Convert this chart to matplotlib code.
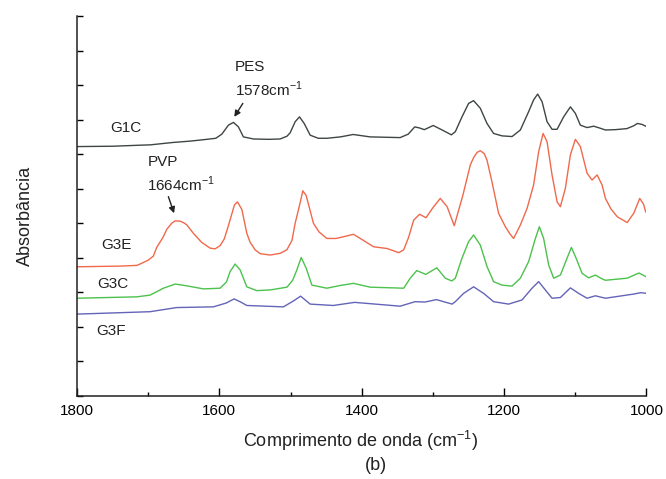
import matplotlib
matplotlib.use("Agg")
import matplotlib.pyplot as plt

plt.rcParams['font.family'] = ['Liberation Sans', 'DejaVu Sans']

# ---- data (wavenumber cm-1, absorbance arbitrary units) ----
g1c_w = [1800, 1750, 1711.4, 1697, 1664.6, 1640, 1617.6, 1605, 1596.5, 1587.3, 1580.2, 1573.2,
         1566.2, 1552.1, 1530, 1514.6, 1505, 1500.5, 1493.5, 1487.4, 1480.8, 1472.4, 1461, 1449,
         1430, 1412, 1388, 1346, 1334.6, 1325.5, 1319, 1312, 1299.5, 1287, 1274, 1268.5, 1259.1,
         1249.8, 1242.8, 1233.4, 1224, 1214.7, 1202.9, 1188.8, 1177.1, 1165.5, 1158.5, 1152.8,
         1146.6, 1139.6, 1132.6, 1125.5, 1116.3, 1106.8, 1099.8, 1092.8, 1083.4, 1074.1, 1064.7,
         1057.6, 1043.6, 1027.5, 1018, 1012.6, 1006, 1001]
g1c_a = [7.22, 7.23, 7.26, 7.27, 7.34, 7.38, 7.43, 7.46, 7.58, 7.84, 7.92, 7.79,
         7.50, 7.44, 7.43, 7.44, 7.52, 7.62, 7.94, 8.08, 7.89, 7.55, 7.46, 7.46,
         7.50, 7.57, 7.50, 7.48, 7.58, 7.79, 7.76, 7.71, 7.83, 7.70, 7.56, 7.65, 8.08,
         8.47, 8.55, 8.33, 7.89, 7.60, 7.53, 7.51, 7.70, 8.23, 8.57, 8.74,
         8.52, 7.94, 7.72, 7.72, 8.08, 8.37, 8.18, 7.84, 7.77, 7.81, 7.75,
         7.70, 7.71, 7.74, 7.82, 7.89, 7.86, 7.81]

g3e_w = [1800, 1740, 1716, 1711.4, 1700, 1692.7, 1688, 1678.7, 1674, 1667, 1662, 1655, 1650.5,
         1646, 1636.5, 1625, 1613, 1606, 1599, 1593, 1587.3, 1578.8, 1574.6, 1568.4, 1561.4,
         1556.8, 1549.7, 1542.7, 1528.6, 1514.6, 1505.2, 1498, 1493.5, 1487, 1482.7, 1478,
         1474.8, 1467.8, 1460, 1449, 1436, 1425.6, 1411.5, 1402, 1383.4, 1364.6, 1348, 1341,
         1334, 1327, 1318.7, 1309.7, 1300, 1289.6, 1280, 1270, 1258, 1247.4, 1242.8, 1238,
         1233.4, 1228, 1224, 1217, 1207.7, 1198.2, 1192, 1186.6, 1177.1, 1167.7, 1158.5, 1151.4,
         1145.2, 1139.6, 1132.6, 1125.5, 1120.9, 1113.9, 1106.8, 1099.8, 1092.8, 1083.4, 1076.4,
         1069.3, 1062.3, 1057.6, 1050, 1041, 1027, 1017.8, 1009.4, 1004, 1001]
g3e_a = [3.74, 3.76, 3.78, 3.82, 3.93, 4.05, 4.30, 4.61, 4.82, 5.00, 5.07, 5.06, 5.02,
         4.96, 4.71, 4.45, 4.28, 4.26, 4.35, 4.55, 4.93, 5.53, 5.62, 5.40, 4.71,
         4.45, 4.23, 4.12, 4.08, 4.13, 4.23, 4.50, 5.00, 5.55, 5.94, 5.80,
         5.55, 5.00, 4.75, 4.56, 4.56, 4.61, 4.68, 4.56, 4.32, 4.27, 4.15, 4.23,
         4.60, 5.09, 5.26, 5.16, 5.45, 5.72, 5.48, 4.93, 5.80, 6.69, 6.90, 7.05,
         7.10, 7.02, 6.83, 6.20, 5.29, 4.90, 4.70, 4.56, 4.95, 5.43, 6.11, 7.07,
         7.60, 7.36, 6.40, 5.62, 5.48, 6.01, 6.98, 7.43, 7.22, 6.45, 6.25,
         6.40, 6.11, 5.72, 5.42, 5.19, 5.02, 5.29, 5.72, 5.55, 5.33]

g3c_w = [1800, 1716, 1697.4, 1685, 1678.7, 1662, 1646, 1622.4, 1599, 1590, 1584.9, 1577.9,
         1570.8, 1561.4, 1547.3, 1528.6, 1505, 1497, 1491.1, 1485, 1478, 1470, 1449, 1430,
         1411.5, 1388, 1341, 1331.8, 1322.7, 1310, 1294.5, 1282.6, 1273.4, 1268.5, 1259.1,
         1249.8, 1242.8, 1233.4, 1224, 1214.7, 1202.9, 1188.8, 1177.1, 1165.5, 1156, 1150.4,
         1144.4, 1137.3, 1130.3, 1120.9, 1111.5, 1105.4, 1098.8, 1090.4, 1081.1, 1071.7, 1062.3,
         1057.6, 1027, 1010.5, 999.3]
g3c_a = [2.83, 2.87, 2.92, 3.05, 3.12, 3.24, 3.19, 3.10, 3.12, 3.30, 3.60, 3.82,
         3.65, 3.16, 3.05, 3.07, 3.15, 3.35, 3.65, 4.01, 3.70, 3.21, 3.12, 3.20,
         3.26, 3.15, 3.12, 3.41, 3.63, 3.52, 3.71, 3.41, 3.33, 3.41, 3.99,
         4.47, 4.66, 4.37, 3.75, 3.31, 3.21, 3.18, 3.41, 3.89, 4.56, 4.90,
         4.56, 3.79, 3.41, 3.50, 3.99, 4.30, 3.99, 3.55, 3.42, 3.50, 3.39,
         3.35, 3.41, 3.56, 3.44]

g3f_w = [1800, 1697.4, 1660, 1608.4, 1590.5, 1579.3, 1570, 1561.4, 1510, 1496, 1485.8, 1472.4,
         1440, 1410, 1346, 1325, 1311, 1295, 1273, 1268.5, 1256.9, 1242.8, 1228.7, 1214.7,
         1193.6, 1174.8, 1160.7, 1151.4, 1142, 1132.6, 1120.9, 1106.8, 1095.2, 1083.4, 1071.7,
         1057.6, 1018, 1008, 999]
g3f_a = [2.37, 2.44, 2.56, 2.58, 2.69, 2.81, 2.72, 2.62, 2.58, 2.75, 2.89, 2.66,
         2.62, 2.71, 2.60, 2.73, 2.72, 2.79, 2.66, 2.73, 2.97, 3.16, 2.97, 2.73,
         2.66, 2.78, 3.12, 3.31, 3.07, 2.83, 2.85, 3.13, 2.97, 2.83, 2.90,
         2.83, 2.95, 2.99, 2.97]

series_names = ['G1C', 'G3E', 'G3C', 'G3F']
series_colors = ['#3e4644', '#f0694c', '#4cc24c', '#6464b8']

x_ticks = [1800, 1600, 1400, 1200, 1000]
x_minor = [1700, 1500, 1300, 1100]
y_ticks = list(range(0, 12))

# ---- figure ----
fig = plt.figure(figsize=(6.66, 4.79), dpi=100)
ax = fig.add_axes([0.1156, 0.1733, 0.855, 0.7933])

for w, a, c in zip([g1c_w, g3e_w, g3c_w, g3f_w], [g1c_a, g3e_a, g3c_a, g3f_a], series_colors):
    ax.plot(w, a, color=c, lw=1.0, solid_joinstyle='round')

ax.set_xlim(1800, 1000)
ax.set_ylim(0, 11)
ax.set_xticks(x_ticks)
ax.set_xticks(x_minor, minor=True)
ax.set_yticks(y_ticks)
ax.set_yticklabels([])
ax.tick_params(axis='x', which='major', direction='in', length=6, width=1.0, labelsize=11, pad=6)
ax.tick_params(axis='x', which='minor', direction='in', length=3, width=1.0)
ax.tick_params(axis='y', which='major', direction='in', length=4, width=1.0)
for s in ['top', 'right']:
    ax.spines[s].set_visible(False)
for s in ['left', 'bottom']:
    ax.spines[s].set_linewidth(1.1)
    ax.spines[s].set_color('#222222')

# labels for curves
ax.text(1732, 7.76, 'G1C', fontsize=11, ha='center', va='center', color='#222222')
ax.text(1744, 4.38, 'G3E', fontsize=11, ha='center', va='center', color='#222222')
ax.text(1749, 3.24, 'G3C', fontsize=11, ha='center', va='center', color='#222222')
ax.text(1752, 1.88, 'G3F', fontsize=11, ha='center', va='center', color='#222222')

# annotations
ax.text(1578, 9.52, 'PES', fontsize=11, ha='left', va='center', color='#222222')
ax.text(1578, 8.89, r'1578cm$^{\mathregular{-1}}$', fontsize=11, ha='left', va='center', color='#222222')
ax.annotate('', xy=(1579, 8.08), xytext=(1567, 8.47),
            arrowprops=dict(arrowstyle='-|>', color='#222222', lw=1.0, mutation_scale=9,
                            shrinkA=0, shrinkB=0))
ax.text(1701, 6.76, 'PVP', fontsize=11, ha='left', va='center', color='#222222')
ax.text(1701, 6.12, r'1664cm$^{\mathregular{-1}}$', fontsize=11, ha='left', va='center', color='#222222')
ax.annotate('', xy=(1663.6, 5.29), xytext=(1671.6, 5.77),
            arrowprops=dict(arrowstyle='-|>', color='#222222', lw=1.0, mutation_scale=9,
                            shrinkA=0, shrinkB=0))

fig.text(0.542, 0.0795, r'Comprimento de onda (cm$^{\mathregular{-1}}$)', fontsize=13,
         ha='center', va='center', color='#222222')
fig.text(0.565, 0.0285, '(b)', fontsize=13, ha='center', va='center', color='#222222')
fig.text(0.038, 0.55, 'Absorbância', fontsize=13, rotation=90, ha='center', va='center',
         color='#222222')

fig.savefig('out.png', dpi=100)
